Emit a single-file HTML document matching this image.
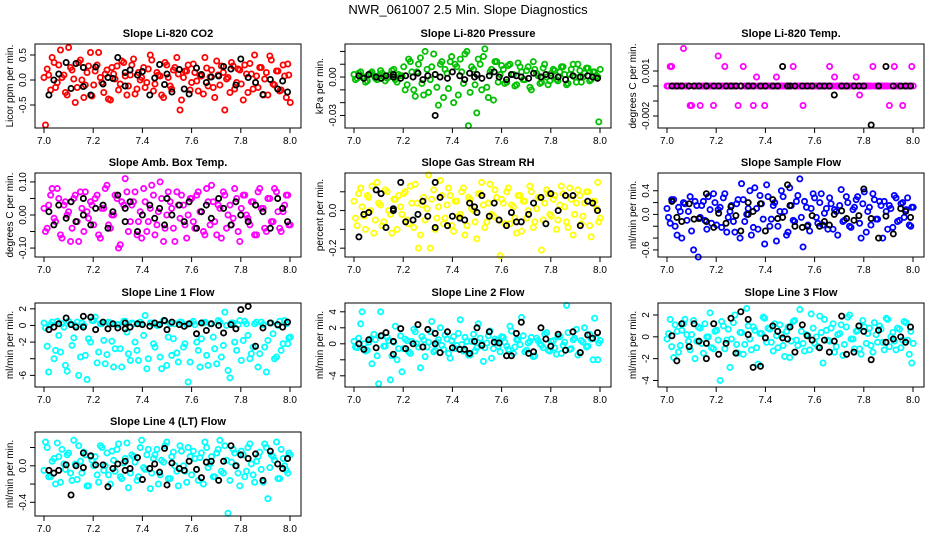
<!DOCTYPE html>
<html><head><meta charset="utf-8"><style>
html,body{margin:0;padding:0;background:#fff;}
svg{display:block;font-family:"Liberation Sans",sans-serif;}
</style></head><body>
<svg id="chart" width="936" height="540" viewBox="0 0 936 540">
<rect width="936" height="540" fill="#fff"/>
<text x="468" y="14" text-anchor="middle" font-size="13">NWR_061007  2.5 Min. Slope Diagnostics</text>
</svg>
<script>
const T=[7.000,7.013,7.027,7.041,7.054,7.067,7.081,7.094,7.108,7.121,7.135,7.148,7.162,7.175,7.189,7.202,7.216,7.229,7.243,7.256,7.270,7.283,7.297,7.310,7.324,7.337,7.351,7.364,7.378,7.391,7.405,7.418,7.432,7.445,7.459,7.472,7.486,7.499,7.513,7.526,7.540,7.553,7.567,7.580,7.594,7.607,7.621,7.634,7.648,7.661,7.675,7.688,7.702,7.715,7.729,7.742,7.756,7.769,7.783,7.796,7.810,7.823,7.837,7.850,7.864,7.877,7.891,7.904,7.918,7.931,7.945,7.958,7.972,7.985,7.995];
const TB=[7.02,7.04,7.06,7.09,7.11,7.13,7.16,7.16,7.19,7.21,7.24,7.26,7.28,7.30,7.33,7.33,7.35,7.38,7.40,7.43,7.45,7.47,7.49,7.50,7.52,7.55,7.57,7.59,7.62,7.64,7.66,7.68,7.71,7.73,7.76,7.78,7.80,7.83,7.86,7.89,7.92,7.95,7.97,7.99];
const xTicks=[7.0,7.2,7.4,7.6,7.8,8.0];
const xTickLabels=["7.0","7.2","7.4","7.6","7.8","8.0"];

const co2=[0.05,0.22,-0.20,0.35,-0.05,0.60,0.10,-0.30,0.25,0.02,-0.15,0.40,-0.35,0.15,0.55,
-0.10,0.30,0.05,-0.25,0.20,-0.40,0.12,0.28,-0.08,0.35,-0.30,0.10,0.42,-0.18,0.00,
0.25,-0.05,0.50,-0.22,0.15,0.08,-0.35,0.30,-0.12,0.20,0.45,-0.60,0.05,0.18,-0.20,
0.32,-0.02,0.10,-0.28,0.24,0.06,-0.15,0.38,-0.10,0.15,0.02,-0.25,0.28,-0.05,0.20,
-0.40,0.12,0.33,-0.18,0.08,0.25,-0.30,0.15,0.48,-0.08,0.18,-0.22,0.30,-0.35,0.10,
-0.90,0.10,0.45,-0.15,0.30,0.05,-0.25,0.65,0.20,-0.45,0.35,0.00,-0.10,0.28,-0.32,
0.18,0.55,-0.05,0.12,-0.38,0.25,0.02,-0.20,0.38,0.08,-0.12,0.30,-0.28,0.15,0.05,
-0.15,0.22,0.40,-0.08,0.10,-0.30,0.35,0.05,-0.18,0.25,0.12,-0.40,0.18,0.30,-0.05,
0.15,-0.22,0.08,0.45,-0.12,0.20,-0.35,0.10,0.28,-0.60,0.05,0.35,-0.18,0.22,-0.08,
0.30,-0.25,0.12,0.50,-0.15,0.25,0.02,-0.30,0.40,-0.10,0.18,-0.20,0.08,0.32,-0.45];
const co2Black=[-0.3,0.0,0.12,0.35,-0.17,0.33,0.25,-0.13,-0.3,0.26,-0.08,0.05,0.03,0.45,-0.12,0.15,0.2,0.1,0.17,-0.3,0.04,0.31,-0.09,0.12,-0.24,0.21,-0.18,-0.28,0.24,0.11,-0.05,0.06,0.08,0.27,0.22,-0.1,0.42,0.05,-0.05,-0.29,0.01,-0.18,-0.02,-0.24];

const pres=[0.002,-0.001,0.004,0.000,-0.003,0.003,0.001,-0.002,0.005,0.000,-0.001,0.002,0.006,-0.004,0.001,
0.008,-0.006,0.012,-0.010,0.004,0.015,-0.014,0.006,-0.002,0.018,-0.008,0.010,-0.016,0.003,0.012,
-0.020,0.008,0.014,-0.005,0.020,-0.012,0.006,-0.028,0.010,0.016,-0.008,0.004,-0.018,0.012,0.002,
0.006,-0.004,0.010,0.002,-0.006,0.008,-0.002,0.005,-0.008,0.012,0.003,-0.005,0.007,0.000,-0.003,
0.006,-0.002,0.004,0.008,-0.006,0.002,0.010,-0.004,0.005,0.000,0.007,-0.003,0.004,0.001,-0.035,
-0.002,0.003,0.000,-0.004,0.002,0.004,-0.001,0.001,0.003,-0.003,0.000,0.005,-0.002,0.002,0.001,
-0.010,0.014,0.004,-0.015,0.010,-0.005,0.020,-0.012,0.008,0.002,-0.022,0.012,0.006,-0.009,0.016,
0.010,-0.014,0.004,0.018,-0.038,0.008,-0.006,0.014,-0.010,0.022,-0.016,0.006,0.012,-0.004,0.009,
-0.005,0.009,0.002,-0.007,0.011,0.004,-0.002,0.008,-0.010,0.006,0.001,-0.004,0.010,-0.006,0.003,
0.005,-0.003,0.008,0.002,-0.005,0.006,0.000,0.010,-0.004,0.003,0.007,-0.002,0.004,0.000,0.006];
const presBlack=[0.001,-0.001,0.002,0.000,-0.001,0.001,0.000,0.002,-0.001,0.001,0.000,0.003,-0.002,0.001,-0.030,0.002,0.000,-0.001,0.004,0.001,-0.002,0.003,0.000,0.002,-0.001,0.001,0.004,0.000,-0.002,0.002,0.001,0.000,-0.001,0.003,0.000,0.002,0.001,0.000,-0.002,0.001,0.000,0.001,0.000,-0.001];

const temp=[0,0.0013,0,0,0,0.0025,0,-0.0013,0,0,-0.0013,0,0,0,-0.0013,
0,0,0,0,0,0,0,0,0.0013,0,0,-0.0013,0.0006,0,0,
0,0,0,0.0006,0,0,0,0,0.0013,0,0,-0.0013,0,0,0,
0,0,0,0,0.0013,0,0,0,0,0,0,0,0.0006,-0.0006,0,
0,0,0.0013,0,0,0,0,-0.0013,0,0,0,-0.0013,0,0,0.0013,
0,0.0013,0,0,0,0,0,-0.0013,0,0,0,0,0,0,0,
0.002,0,0.0013,0,0,0,-0.0013,0,0,0,0,0,0,0,-0.0013,
0,0,0,0,0,0,0,0,0,0,0,0,0,0,0,
0,0,0,0,0,0.0006,0,0,0,0,0,0,0,0,0,
0,0,0,0,0,0,0,0,0.0013,0,0,0,0,0,0];
const tempBlack=[0,0,0,0,0,0,0,0,0,0,0,0,0,0,0,0,0,0,0,0,0,0.0013,0,0,0,0,0,0,0,0,0,-0.0006,0,0,0,0,0,-0.0026,0,0.0013,0,0,0,0];

const amb=[0.02,-0.04,0.06,-0.01,0.08,-0.06,0.03,0.00,-0.08,0.05,-0.02,0.07,-0.05,0.01,0.04,
-0.03,0.06,-0.07,0.02,0.09,-0.04,0.00,0.05,-0.09,0.03,0.07,-0.02,0.04,-0.06,0.01,
0.08,-0.05,0.02,0.06,-0.03,0.10,-0.08,0.00,0.04,-0.04,0.07,-0.01,0.03,-0.07,0.05,
-0.02,0.06,0.01,-0.05,0.08,-0.03,0.04,-0.06,0.02,0.07,-0.04,0.03,-0.01,0.05,-0.08,
0.06,0.00,-0.03,0.04,-0.06,0.08,0.02,-0.05,0.05,-0.02,0.07,-0.04,0.01,0.06,-0.03,
-0.05,0.03,0.08,-0.02,0.05,-0.07,0.04,0.01,-0.04,0.06,-0.08,0.02,0.07,-0.01,0.03,
0.05,-0.06,0.02,0.08,-0.03,0.00,0.06,-0.10,0.04,0.11,-0.05,0.03,0.07,-0.02,-0.07,
0.04,-0.02,0.09,-0.06,0.01,0.05,-0.04,0.07,0.02,-0.08,0.03,0.06,-0.03,0.00,0.05,
-0.04,0.07,0.01,-0.06,0.04,0.09,-0.02,0.03,-0.07,0.06,0.00,-0.03,0.08,-0.05,0.02,
0.06,-0.01,0.04,-0.06,0.07,0.02,-0.04,0.05,-0.02,0.08,0.01,-0.05,0.03,0.06,-0.03];
const ambBlack=[0.01,-0.03,0.03,-0.01,0.04,-0.02,0.00,0.05,-0.03,0.02,0.03,-0.04,0.01,0.06,-0.02,0.02,0.04,-0.05,0.00,0.03,-0.01,0.02,-0.03,0.05,0.00,0.03,-0.02,0.04,-0.04,0.01,0.03,-0.01,0.05,0.02,-0.03,0.04,0.00,-0.02,0.03,0.01,-0.04,0.05,0.02,-0.02];

const rh=[0.05,-0.08,0.12,-0.03,0.08,0.00,-0.12,0.15,0.03,-0.06,0.10,-0.02,0.06,-0.10,0.02,
0.09,-0.05,0.13,-0.09,0.04,-0.13,0.07,0.01,-0.20,0.11,-0.04,0.16,-0.07,0.03,0.08,
-0.11,0.05,-0.02,0.12,-0.08,0.06,0.00,-0.15,0.09,0.03,-0.06,0.14,-0.03,0.07,-0.24,
0.04,0.10,-0.07,0.02,-0.12,0.08,0.05,-0.04,0.13,-0.09,0.01,0.07,-0.05,0.11,-0.02,
0.06,-0.10,0.03,0.09,-0.06,0.12,-0.13,0.04,0.08,-0.03,0.10,-0.08,0.05,0.01,-0.06,
-0.04,0.09,0.02,-0.10,0.07,0.13,-0.05,0.04,-0.08,0.11,0.00,-0.12,0.06,0.08,-0.02,
0.10,-0.07,0.04,0.14,-0.20,0.03,-0.05,0.19,0.06,-0.10,0.02,0.08,-0.04,0.12,-0.08,
0.05,-0.03,0.10,-0.13,0.07,0.01,-0.06,0.09,0.15,-0.09,0.04,-0.02,0.11,-0.05,0.06,
-0.07,0.12,0.03,-0.04,0.08,-0.11,0.05,0.00,0.10,-0.06,0.07,-0.21,0.04,0.09,-0.03,
0.08,-0.05,0.13,0.02,-0.09,0.06,-0.02,0.11,-0.07,0.04,0.10,-0.14,0.05,0.15,-0.04];
const rhBlack=[-0.14,-0.02,-0.01,0.11,0.09,-0.09,0.00,0.01,0.15,-0.06,-0.05,-0.02,0.05,-0.03,-0.09,0.15,0.07,-0.08,-0.03,-0.04,-0.05,0.04,0.02,-0.01,0.08,-0.03,0.04,-0.05,-0.08,-0.01,-0.06,-0.06,-0.02,0.04,0.07,-0.07,0.09,0.00,0.08,0.08,-0.08,0.05,0.04,0.00];

const sflow=[0.10,-0.15,0.25,-0.35,0.05,0.20,-0.10,0.30,-0.60,0.15,-0.05,0.22,-0.25,0.08,0.35,
-0.18,0.12,0.28,-0.30,0.05,-0.12,0.18,-0.40,0.25,0.00,0.40,-0.22,0.10,0.32,-0.08,
0.50,-0.20,0.15,-0.45,0.05,0.30,-0.35,0.45,-0.10,0.22,0.60,-0.55,0.12,-0.28,0.35,
-0.05,0.20,-0.18,0.10,0.28,-0.25,0.05,0.15,-0.12,0.30,-0.20,0.08,0.25,-0.15,0.18,
-0.30,0.12,0.35,-0.08,0.22,-0.40,0.05,0.15,-0.22,0.28,-0.10,0.20,0.08,-0.18,0.12,
-0.05,0.25,-0.20,0.12,-0.40,0.18,0.05,-0.28,0.22,-0.72,0.15,-0.10,0.30,-0.15,0.20,
0.08,-0.22,0.35,-0.05,0.15,-0.30,0.25,0.52,-0.12,0.10,-0.35,0.45,-0.25,0.18,-0.50,
0.30,-0.08,0.20,-0.20,0.40,0.05,-0.30,0.15,-0.12,0.32,-0.05,0.22,-0.18,0.10,0.28,
-0.15,0.35,0.02,-0.25,0.18,0.08,-0.35,0.42,-0.10,0.20,-0.22,0.12,0.30,-0.40,0.38,
0.05,-0.18,0.25,-0.08,0.15,0.22,-0.25,0.10,0.32,-0.12,0.18,-0.05,0.28,-0.20,0.12];
const sflowBlack=[0.22,-0.05,-0.12,0.18,-0.08,-0.07,0.35,-0.12,-0.22,0.02,-0.15,0.13,-0.02,-0.28,0.20,0.00,0.05,0.18,-0.28,0.25,-0.07,-0.05,0.50,0.15,-0.20,-0.22,-0.20,-0.02,-0.20,-0.12,-0.18,0.00,0.06,-0.07,-0.10,-0.02,0.43,-0.07,-0.40,-0.03,-0.33,0.10,0.05,-0.05];

const line1=[0.3,-2.5,0.1,-4.0,0.5,-3.2,-0.2,-5.5,0.2,-1.5,0.4,-3.8,0.0,-6.5,-2.0,
0.6,-4.5,0.2,-1.8,-3.5,0.3,-5.0,0.1,-2.8,0.5,-0.8,-4.2,0.2,-3.0,0.4,
-1.2,-5.2,0.3,-2.2,0.0,-3.8,0.6,-4.8,0.2,-1.6,-3.3,0.4,-2.6,0.1,-4.4,
0.5,-2.0,-5.0,0.3,-3.6,0.2,-1.4,-4.6,0.4,-2.4,0.0,-6.3,0.3,-3.0,0.6,
-1.8,0.2,-4.0,-2.6,0.4,-3.4,0.1,-5.6,0.3,-1.0,-3.8,0.5,-2.2,0.2,-1.5,
-0.3,-5.6,0.4,-3.0,-1.2,0.2,-4.8,0.5,-2.4,0.0,-6.0,0.3,-3.6,-1.6,0.6,
1.0,-3.2,0.2,-4.6,0.4,-1.9,-2.8,0.1,-5.0,0.5,-3.4,0.3,-2.0,-4.2,0.2,
1.2,-4.0,0.3,-2.6,0.0,-5.2,0.5,-1.4,-3.6,0.2,-4.4,0.4,-2.2,-6.8,0.3,
0.1,-3.0,-1.6,0.4,-4.8,0.2,-2.8,0.6,-3.8,1.6,-5.4,0.3,-2.0,0.1,-4.2,
0.5,-1.2,-3.4,0.2,-5.0,0.4,-2.6,-1.8,0.3,-4.0,0.0,-3.0,0.6,-2.2,-1.4];
const line1Black=[-0.5,-0.2,0.2,0.9,0.1,-0.2,1.1,-0.2,1.0,-0.5,0.4,-0.4,0.2,-0.3,0.3,-0.4,-0.2,0.2,0.1,-0.1,0.3,0.1,0.6,-0.5,0.4,0.1,-0.1,0.2,-1.0,0.3,-0.6,0.2,0.0,-0.9,0.1,-0.4,1.9,2.3,-2.5,-0.3,0.3,0.1,-0.2,0.4];

const line2=[0.3,-0.5,2.5,0.0,-0.8,0.6,1.2,-1.5,4.0,-0.3,0.8,-4.5,0.2,-2.0,1.0,
-0.6,0.4,-1.2,1.8,0.0,-3.0,0.5,-0.4,1.5,-1.0,0.2,2.0,-0.7,0.6,-1.8,
0.9,-0.2,3.0,-0.9,0.3,-1.4,1.2,-0.5,0.7,-2.2,0.1,1.6,-0.6,0.4,-1.0,
0.8,-0.3,2.2,-1.2,0.5,-0.1,1.0,-0.8,0.3,-1.6,0.7,0.0,-0.5,1.4,-0.9,
0.4,-1.3,0.9,-0.2,4.8,-0.7,0.5,1.8,-1.1,0.2,-0.4,1.2,-2.0,0.6,0.1,
-0.4,0.7,4.0,-0.9,0.2,-2.5,0.5,-5.0,1.0,-0.3,0.4,-1.5,2.2,-0.6,-3.5,
0.6,-1.0,0.3,1.5,-0.4,0.9,-1.6,0.2,2.8,-0.8,0.5,-0.2,1.1,-1.2,0.4,
-0.6,1.3,-0.1,0.8,-1.4,0.3,-0.9,2.5,0.0,-0.5,1.0,-1.8,0.6,-0.3,0.9,
0.2,-0.7,1.6,-0.4,0.5,3.3,-1.0,0.1,0.8,-1.5,0.4,-0.2,1.2,-0.8,0.3,
-0.5,0.9,-1.2,0.2,1.4,-0.6,0.7,-1.4,0.4,2.0,-0.3,0.6,3.2,-2.0,0.4];
const line2Black=[0.0,-0.7,0.5,-0.5,1.0,1.4,0.3,-1.3,1.9,-0.6,0.0,2.4,-0.4,1.8,1.3,0.0,-1.1,1.5,-0.5,-0.7,-0.7,-1.2,0.3,2.0,-0.2,1.5,0.2,0.1,-1.5,-1.5,1.3,2.7,-1.2,-1.0,2.0,0.6,-0.3,1.2,-0.8,1.5,-1.1,1.1,0.7,1.4];

const line3=[-0.2,1.6,-1.9,0.5,-0.8,1.2,0.2,-1.2,1.5,-0.4,0.8,-1.5,0.0,2.2,-1.1,
0.6,-4.0,1.0,-0.3,-2.8,1.3,-0.7,0.4,-1.6,2.6,-0.2,0.9,-1.0,0.3,1.8,
-0.5,0.7,-1.3,0.1,1.1,-0.8,0.5,-1.9,1.4,-0.3,2.5,-0.6,0.2,-1.2,0.8,
0.0,1.9,-2.4,0.6,-0.4,1.2,-0.9,0.3,-1.7,0.9,2.0,-0.2,0.5,-1.1,1.5,
-0.6,0.8,-1.4,0.2,1.0,-0.5,1.7,-0.9,0.4,-1.2,0.7,-0.3,1.3,-1.6,-2.4,
0.3,-0.9,1.1,-1.4,0.6,1.6,-0.4,0.2,-2.0,0.9,-0.6,1.2,0.0,-1.0,0.5,
-0.3,1.4,-1.1,0.7,-0.2,2.0,-1.5,0.4,-0.7,1.0,-1.2,0.6,-2.5,0.3,1.7,
0.8,-0.5,1.2,-1.0,0.2,-1.8,0.9,-0.4,1.5,-0.8,0.5,-1.3,0.1,2.1,-0.6,
-0.9,0.4,1.6,-0.3,0.8,-1.4,0.2,1.1,-0.7,1.8,-0.2,-1.1,0.6,-1.6,0.9,
0.3,-0.8,1.3,-0.5,0.7,-1.2,1.6,0.0,-0.4,0.8,-1.0,1.4,-0.3,0.5,-0.6];
const line3Black=[0.1,-2.2,1.2,-0.9,1.2,-0.4,-0.6,-2.0,1.2,-1.6,-0.6,1.7,-1.5,2.3,0.2,1.6,-2.8,-2.7,-0.1,1.0,0.5,-0.1,-0.2,0.9,-1.4,1.1,0.1,-0.3,-1.0,-0.3,-1.4,-0.4,1.9,-1.6,-1.4,1.0,0.5,-2.1,0.6,-0.5,-0.2,0.0,-0.5,0.9];

const line4=[-0.05,0.20,-0.12,0.08,0.25,-0.18,0.02,0.12,-0.08,0.28,-0.15,0.05,0.15,-0.22,0.10,
0.00,-0.10,0.22,-0.05,0.14,-0.20,0.06,0.18,-0.12,0.03,0.25,-0.08,0.10,-0.16,0.20,
-0.02,0.12,-0.25,0.08,0.18,-0.10,0.04,0.26,-0.14,0.15,-0.06,0.22,0.00,-0.18,0.10,
0.16,-0.04,0.09,-0.20,0.20,0.02,-0.12,0.14,0.28,-0.08,0.06,-0.16,0.18,0.00,-0.22,
0.12,-0.06,0.24,-0.10,0.05,0.15,-0.18,0.20,-0.02,0.10,0.26,-0.14,0.08,-0.05,0.14,
0.26,-0.12,0.05,-0.20,0.10,0.18,-0.04,0.14,-0.16,0.02,0.22,-0.08,0.12,-0.22,0.06,
0.10,-0.18,0.20,0.00,-0.10,0.16,-0.06,0.24,-0.14,0.08,-0.24,0.12,0.04,-0.12,0.28,
-0.04,0.18,-0.08,0.12,-0.20,0.06,0.22,-0.14,0.10,0.00,-0.22,0.16,-0.06,0.20,-0.10,
0.08,-0.16,0.14,0.26,-0.02,0.10,-0.12,0.18,-0.06,0.22,-0.52,0.04,0.14,-0.08,0.16,
-0.12,0.20,0.02,-0.18,0.10,-0.04,0.24,-0.36,0.12,0.06,-0.14,0.18,0.00,-0.08,0.12];
const line4Black=[-0.05,-0.08,-0.05,0.01,-0.32,0.00,0.14,-0.02,0.11,0.01,0.01,-0.23,-0.03,0.02,0.05,-0.05,-0.03,0.09,-0.15,-0.03,0.02,-0.07,0.19,-0.21,0.03,-0.03,-0.05,0.05,-0.04,-0.13,0.04,0.05,-0.16,0.05,0.22,0.00,0.12,0.08,0.13,-0.16,0.16,0.02,-0.03,0.08];

const panelTitles=["Slope Li-820 CO2","Slope Li-820 Pressure","Slope Li-820 Temp.","Slope Amb. Box Temp.","Slope Gas Stream RH","Slope Sample Flow","Slope Line 1 Flow","Slope Line 2 Flow","Slope Line 3 Flow","Slope Line 4 (LT) Flow"];
const yTitles=["Licor ppm per min.","kPa per min.","degrees C per min.","degrees C per min.","percent per min.","ml/min per min.","ml/min per min.","ml/min per min.","ml/min per min.","ml/min per min."];
const yTickVals=[[0.5,0,-0.5],[0.02,0.01,0,-0.01,-0.02,-0.03],[0.001,0,-0.001,-0.002],[0.1,0.05,0,-0.05,-0.1],[0.1,0,-0.1,-0.2],[0.4,0.2,0,-0.2,-0.4,-0.6],[2,0,-2,-4,-6],[4,2,0,-2,-4],[2,0,-2,-4],[0.2,0,-0.2,-0.4]];
const yTickLabels=[["0.5","0.0","-0.5"],["","","0.00","","","-0.03"],["0.001","","","-0.002"],["0.10","","0.00","","-0.10"],["","0.0","","-0.2"],["0.4","","0.0","","","-0.6"],["2","0","-2","","-6"],["4","2","0","","-4"],["2","0","-2","-4"],["","0.0","","-0.4"]];
const yDomains=[[-0.96,0.72],[-0.0398,0.0258],[-0.0028,0.0028],[-0.127,0.127],[-0.247,0.2],[-0.72,0.7],[-7.4,2.7],[-5.4,5.1],[-4.6,3.1],[-0.55,0.37]];
const seriesColored=[co2,pres,temp,amb,rh,sflow,line1,line2,line3,line4];
const seriesBlack=[co2Black,presBlack,tempBlack,ambBlack,rhBlack,sflowBlack,line1Black,line2Black,line3Black,line4Black];
const colors=["#ff0000","#00c000","#ff00ff","#ff00ff","#ffff00","#0000ff","#00ffff","#00ffff","#00ffff","#00ffff"];

const NS="http://www.w3.org/2000/svg";
const svg=document.getElementById('chart');
const colLeft=[35,345,658], rowTop=[44,173,303,432], W=266, H=84;
function mk(tag,attrs,parent){const e=document.createElementNS(NS,tag);for(const k in attrs)e.setAttribute(k,attrs[k]);parent.appendChild(e);return e;}

for(let p=0;p<10;p++){
  const L=colLeft[p%3], Tp=rowTop[Math.floor(p/3)];
  const g=mk('g',{},svg);
  
  
  const xs=v=>L+9+(v-7)*246;
  const [y0,y1]=yDomains[p];
  const ys=v=>Tp+H-(v-y0)/(y1-y0)*H;
  const tt=mk('text',{x:L+W/2,y:Tp-7,'text-anchor':'middle','font-size':'11','font-weight':'bold'},g);
  tt.textContent=panelTitles[p];
  
  
  // x axis
  xTicks.forEach((v,i)=>{
    const t=mk('line',{x1:xs(v),x2:xs(v),y1:Tp+H,y2:Tp+H+5,stroke:'#000'},g);
    
    
    const lb=mk('text',{x:xs(v),y:Tp+H+16,'text-anchor':'middle','font-size':'10'},g);
    lb.textContent=xTickLabels[i];
    
    
  });
  // y axis
  yTickVals[p].forEach((v,i)=>{
    const t=mk('line',{x1:L-5,x2:L,y1:ys(v),y2:ys(v),stroke:'#000'},g);
    
    
    if(yTickLabels[p][i]){
      const lb=mk('text',{x:0,y:0,'text-anchor':'middle','font-size':'10',transform:`translate(${L-9},${ys(v)}) rotate(-90)`},g);
      lb.textContent=yTickLabels[p][i];
      
      
    }
  });
  const yt=mk('text',{x:0,y:0,'text-anchor':'middle','font-size':'10',transform:`translate(${L-22},${Tp+H/2}) rotate(-90)`},g);
  yt.textContent=yTitles[p];
  
  
  // points
  const c=seriesColored[p];
  c.forEach((v,i)=>{
    const x=T[i%T.length]+(i>=T.length?0.006:0);
    const pt=mk('circle',{cx:xs(x),cy:ys(v),r:2.6,fill:'none',stroke:colors[p],'stroke-width':1.8},g);
    
    
  });
  const b=seriesBlack[p];
  b.forEach((v,i)=>{
    if(i>=TB.length)return;
    const pt=mk('circle',{cx:xs(TB[i]),cy:ys(v),r:2.6,fill:'none',stroke:'#000','stroke-width':1.8},g);
    
    
  });
  const box=mk('rect',{x:L,y:Tp,width:W,height:H,fill:'none',stroke:'#000'},g);
  
  
}
</script>
</body></html>
